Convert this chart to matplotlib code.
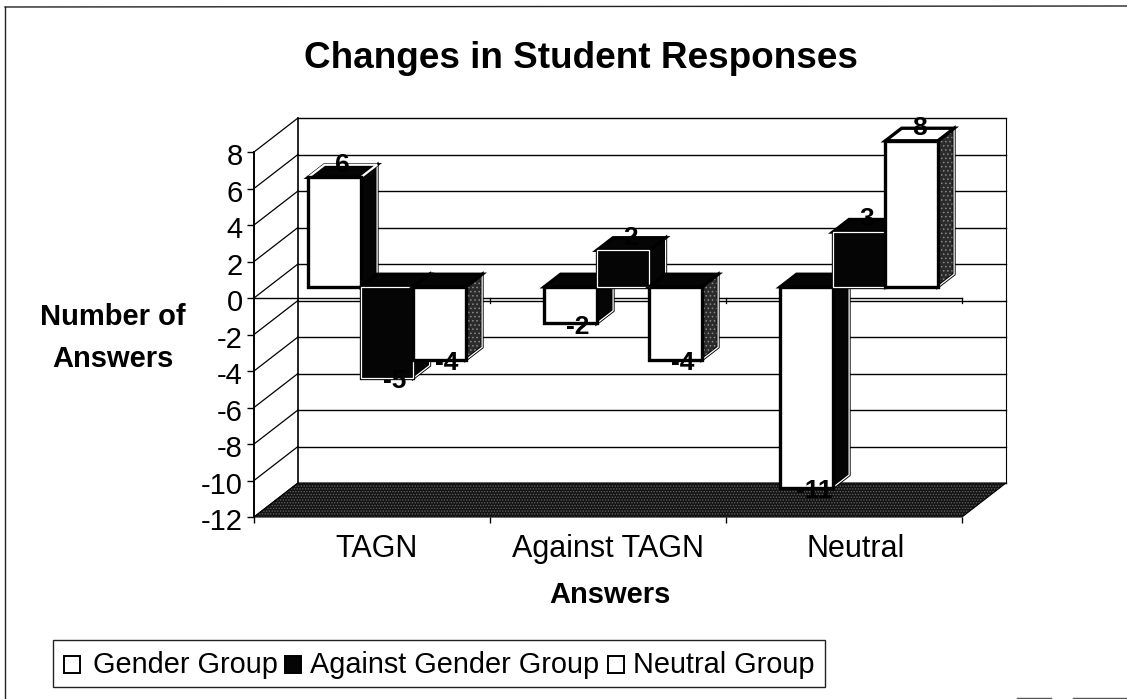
import matplotlib
matplotlib.use("Agg")
import matplotlib.pyplot as plt
from matplotlib.patches import Polygon, Rectangle
from matplotlib.lines import Line2D
from matplotlib.transforms import ScaledTranslation

plt.rcParams['font.family'] = ['Liberation Sans', 'DejaVu Sans']
plt.rcParams['hatch.linewidth'] = 0.6

# ---- data ----
categories = ["TAGN", "Against TAGN", "Neutral"]
series_names = ["Gender Group", "Against Gender Group", "Neutral Group"]
gender_group = [6, -2, -11]
against_gender_group = [-5, 2, 3]
neutral_group = [-4, -4, 8]
y_ticks = [8, 6, 4, 2, 0, -2, -4, -6, -8, -10, -12]
title = "Changes in Student Responses"
x_title = "Answers"
y_title = "Number of\nAnswers"

W, H = 1127, 699
fig = plt.figure(figsize=(W / 100, H / 100), dpi=100, facecolor="white")
L, R, T, B = 254, 962, 152, 517
ax = fig.add_axes([L / W, 1 - B / H, (R - L) / W, (B - T) / H])
ax.set_xlim(0, 3)
ax.set_ylim(-12, 8)
ax.patch.set_visible(False)
for s in ax.spines.values():
    s.set_visible(False)

# oblique projection of the 3-D box
DX, DY = 0.186, 1.86
def P(x, v, z=0.0):
    return (x + z * DX, v + z * DY)

def poly(pts, fc, zo, lw=1.0, ec="black", hatch=None, hatch_c=None):
    if hatch:
        ax.add_patch(Polygon(pts, closed=True, fc=fc, ec=hatch_c, lw=0, hatch=hatch, zorder=zo, clip_on=False))
        ax.add_patch(Polygon(pts, closed=True, fc="none", ec=ec, lw=lw, zorder=zo, clip_on=False))
    else:
        ax.add_patch(Polygon(pts, closed=True, fc=fc, ec=ec, lw=lw, zorder=zo, clip_on=False, joinstyle="miter"))

def ln(a, b, lw=1.0, zo=1, c="black"):
    ax.add_line(Line2D([a[0], b[0]], [a[1], b[1]], lw=lw, color=c, zorder=zo, clip_on=False))

# walls, gridlines, floor
ymin, ymax = y_ticks[-1], y_ticks[0]
for v in y_ticks:
    ln(P(0, v, 0), P(0, v, 1), lw=0.9)
    ln(P(0, v, 1), P(3, v, 1), lw=1.0)
ln(P(0, ymin, 1), P(0, ymax, 1), lw=1.2)
ln(P(3, ymin, 1), P(3, ymax, 1), lw=0.8)
poly([P(0, ymin, 0), P(3, ymin, 0), P(3, ymin, 1), P(0, ymin, 1)], "#141414", 2, lw=0.8,
     hatch="......", hatch_c="#666666")
ln(P(0, 0, 0), P(3, 0, 0), lw=1.0, zo=3)
for x in range(1, 4):
    ln(P(x, 0, 0), (x, -0.3), lw=0.9, zo=3)

# bars
Z0, Z1 = 0.33, 0.70
MARGIN, BW = 0.169, 0.2225
series = [gender_group, against_gender_group, neutral_group]
front_c = ["white", "#050505", "white"]
side_c = ["#050505", "#050505", "#2b2b2b"]
zo = 5
labels = []
for g in range(len(categories)):
    for s, vals in enumerate(series):
        v = vals[g]
        x0 = g + MARGIN + s * BW
        x1 = x0 + BW
        # right side
        side = [P(x1, 0, Z0), P(x1, v, Z0), P(x1, v, Z1), P(x1, 0, Z1)]
        if s == 2:
            poly(side, side_c[s], zo, lw=2.2, hatch="....", hatch_c="#8a8a8a")
        else:
            poly(side, side_c[s], zo, lw=2.2)
        poly(side, "none", zo, lw=0.9, ec="white")
        # top face (dark inside for negative bars and for the first two series)
        top_v = max(v, 0)
        top = [P(x0, top_v, Z0), P(x1, top_v, Z0), P(x1, top_v, Z1), P(x0, top_v, Z1)]
        top_fc = "#050505" if (v < 0 or s < 2) else "white"
        poly(top, top_fc, zo, lw=2.4)
        if v > 0 and s == 0:
            poly(top, "none", zo, lw=1.6, ec="white")
        # front
        front = [P(x0, 0, Z0), P(x1, 0, Z0), P(x1, v, Z0), P(x0, v, Z0)]
        poly(front, front_c[s], zo, lw=2.4)
        if s == 1:
            poly(front, "none", zo, lw=0.9, ec="white")
        zo += 1
        labels.append(((x0 + x1) / 2, v))
for xc, v in labels:
    off = 5 if v > 0 else -6.5
    ax.annotate(str(v), P(xc, v, 0.5), xytext=(0, off), textcoords="offset points",
                ha="center", va="center", fontsize=19, fontweight="bold", zorder=30, annotation_clip=False)

# axes decoration
ax.set_yticks(y_ticks)
ax.set_yticklabels([str(v) for v in y_ticks], fontsize=21)
ax.tick_params(axis="y", length=5, width=1.0, pad=3)
shift = ScaledTranslation(0, -1.5 / 72, fig.dpi_scale_trans)
for t in ax.get_yticklabels():
    t.set_transform(t.get_transform() + shift)
ax.set_xticks(range(4))
ax.set_xticklabels([])
ax.tick_params(axis="x", length=4, width=1.0)
ln(P(0, ymin), P(0, ymax), lw=1.4, zo=4)

cat_x = [0.521, 1.5, 2.55]
for xc, c in zip(cat_x, categories):
    ax.annotate(c, (xc, ymin), xytext=(0, -28.8), textcoords="offset points", ha="center", va="baseline",
                fontsize=22, annotation_clip=False)

fig.text(581 / W, 1 - 58 / H, title, ha="center", va="center", fontsize=26.6, fontweight="bold")
fig.text(610 / W, 1 - 595 / H, x_title, ha="center", va="center", fontsize=21, fontweight="bold")
fig.text(113 / W, 1 - 338 / H, y_title, ha="center", va="center", fontsize=21, fontweight="bold", linespacing=1.6)

# outer frame (partly lost in the scan)
fig.add_artist(Line2D([5 / W, 5 / W], [1 - 7 / H, 0], transform=fig.transFigure, color="#222222", lw=1.0))
fig.add_artist(Line2D([5 / W, 1], [1 - 7 / H, 1 - 6 / H], transform=fig.transFigure, color="#222222", lw=1.0))
for a, b in [(1017, 1051), (1073, 1127)]:
    fig.add_artist(Line2D([a / W, b / W], [1 - 698 / H, 1 - 698 / H], transform=fig.transFigure, color="#555555", lw=1.0))

# legend
fig.add_artist(Rectangle((53 / W, 1 - 687 / H), 772 / W, 47 / H, transform=fig.transFigure,
                         fc="white", ec="#222222", lw=1.0))
leg_sw_x = [64, 285, 608]
leg_txt_x = [93, 310, 633]
leg_fc = ["white", "#050505", "white"]
for sx, tx, name, s in zip(leg_sw_x, leg_txt_x, series_names, range(3)):
    fig.add_artist(Rectangle((sx / W, 1 - 673 / H), 16 / W, 17 / H, transform=fig.transFigure,
                             fc=leg_fc[s], ec="black", lw=1.4))
    fig.text(tx / W, 1 - 665 / H, name, ha="left", va="center", fontsize=20.8)

fig.savefig("out.png", dpi=100)
